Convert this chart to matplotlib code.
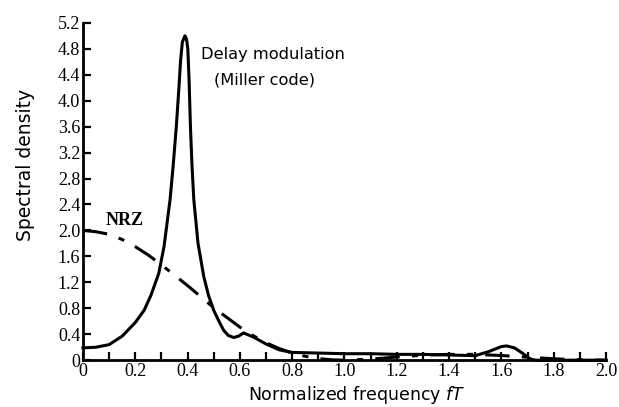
import numpy as np
import matplotlib
matplotlib.use("Agg")
import matplotlib.pyplot as plt
from matplotlib.ticker import MultipleLocator, FixedLocator

# Spectral density of delay modulation (Miller code) against NRZ
miller_f = [0.0, 0.05, 0.1, 0.15, 0.2, 0.234, 0.26, 0.29, 0.31, 0.333, 0.345, 0.357,
            0.367, 0.373, 0.38, 0.39, 0.396, 0.401, 0.406, 0.411, 0.417, 0.424,
            0.44, 0.462, 0.48, 0.50, 0.52, 0.538, 0.556, 0.576, 0.595, 0.614,
            0.65, 0.7, 0.75, 0.8, 0.9, 1.0, 1.1, 1.2, 1.3, 1.4, 1.5, 1.55, 1.6,
            1.62, 1.65, 1.68, 1.71, 1.73, 1.8, 2.0]
miller_s = [0.19, 0.20, 0.24, 0.37, 0.58, 0.77, 1.0, 1.34, 1.75, 2.47, 3.0, 3.6,
            4.2, 4.6, 4.9, 5.0, 4.95, 4.8, 4.3, 3.6, 3.0, 2.47,
            1.8, 1.29, 1.0, 0.77, 0.6, 0.46, 0.38, 0.35, 0.37, 0.42,
            0.36, 0.25, 0.16, 0.12, 0.11, 0.10, 0.10, 0.09, 0.09, 0.08, 0.07, 0.13, 0.21,
            0.22, 0.19, 0.11, 0.02, 0.0, 0.0, 0.0]

nrz_f = [0.0, 0.05, 0.1, 0.15, 0.2, 0.25, 0.3, 0.35, 0.4, 0.45, 0.5, 0.55, 0.6,
         0.65, 0.7, 0.75, 0.8, 0.85, 0.9, 0.95, 1.0, 1.1, 1.2, 1.3, 1.4, 1.5,
         1.6, 1.7, 1.8, 1.9, 2.0]
nrz_s = [2.0, 1.98, 1.94, 1.86, 1.75, 1.62, 1.47, 1.31, 1.15, 0.98, 0.81, 0.66, 0.51,
         0.38, 0.27, 0.18, 0.11, 0.06, 0.025, 0.006, 0.0, 0.016, 0.049, 0.078, 0.09, 0.09,
         0.072, 0.046, 0.022, 0.005, 0.0]

x_ticks = np.arange(0, 2.01, 0.2)
x_labels = ["0", "0.2", "0.4", "0.6", "0.8", "1.0", "1.2", "1.4", "1.6", "1.8", "2.0"]
y_ticks = np.arange(0, 5.21, 0.4)
y_labels = ["0"] + [f"{v:.1f}" for v in y_ticks[1:]]

serif = "Liberation Serif"
sans = "DejaVu Sans"

fig = plt.figure(figsize=(6.19, 4.07), dpi=100)
ax = fig.add_axes([0.134, 0.115, 0.845, 0.829])

ax.plot(miller_f, miller_s, color="black", lw=2.2, clip_on=False,
        solid_joinstyle="round")
ax.plot(nrz_f, nrz_s, color="black", lw=2.2, clip_on=False,
        dashes=(8, 4, 2, 4))

ax.set_xlim(0, 2.0)
ax.set_ylim(0, 5.2)
ax.spines["top"].set_visible(False)
ax.spines["right"].set_visible(False)
for s in ("left", "bottom"):
    ax.spines[s].set_linewidth(2.0)

ax.xaxis.set_major_locator(FixedLocator(x_ticks))
ax.xaxis.set_minor_locator(MultipleLocator(0.1))
ax.set_xticklabels(x_labels, fontfamily=serif, fontsize=13)
ax.yaxis.set_major_locator(FixedLocator(y_ticks))
ax.set_yticklabels(y_labels, fontfamily=serif, fontsize=13)
ax.tick_params(axis="both", which="both", direction="in", length=6, width=1.6, pad=2)

ax.set_xlabel("Normalized frequency $fT$", fontfamily=sans, fontsize=12.5)
ax.xaxis.set_label_coords(0.524, -0.07)
ax.set_ylabel("Spectral density", fontfamily=sans, fontsize=13.5)
ax.yaxis.set_label_coords(-0.092, 0.58)

ax.text(0.45, 4.71, "Delay modulation", fontfamily=sans, fontsize=11.7,
        ha="left", va="center")
ax.text(0.50, 4.32, "(Miller code)", fontfamily=sans, fontsize=11.7,
        ha="left", va="center")
ax.text(0.088, 2.15, "NRZ", fontfamily=serif, fontsize=13, fontweight="bold",
        ha="left", va="center")

fig.savefig("out.png", dpi=100)
